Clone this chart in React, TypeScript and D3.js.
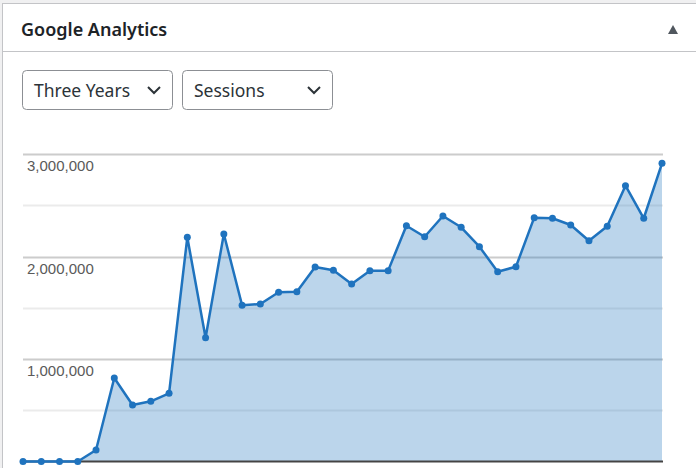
import React from "react";
import * as d3 from "d3";

const months: number[] = d3.range(36);
const sessions: number[] = [
  0, 0, 0, 0, 112000, 815000, 551000, 587000, 665000, 2187000, 1208000, 2220000,
  1524000, 1537000, 1651000, 1657000, 1898000, 1865000, 1732000, 1862000, 1862000, 2300000, 2193000, 2395000,
  2285000, 2096000, 1852000, 1900000, 2379000, 2373000, 2307000, 2154000, 2295000, 2691000, 2373000, 2909000,
];
const yTicks: number[] = [0, 500000, 1000000, 1500000, 2000000, 2500000, 3000000];
const labelTicks: number[] = [1000000, 2000000, 3000000];
const title = "Google Analytics";
const rangeOptions = ["Three Years"];
const metricOptions = ["Sessions"];

const W = 696;
const H = 468;

export default function App() {
  const x = d3.scaleLinear().domain([0, months.length - 1]).range([23, 662]);
  const y = d3.scaleLinear().domain([0, 3000000]).range([461.5, 154]);
  const line = d3
    .line<number>()
    .x((_, i) => x(months[i]))
    .y((d) => y(d));
  const area = d3
    .area<number>()
    .x((_, i) => x(months[i]))
    .y0(y(0))
    .y1((d) => y(d));
  const fmt = d3.format(",");
  const lineColor = "#1f73be";
  const uiFont = "'Noto Sans', 'Open Sans', sans-serif";

  const dropdown = (x0: number, label: string) => (
    <g key={label} transform={`translate(${x0},70)`}>
      <rect x={0.5} y={0.5} width={150} height={39} rx={4} fill="#fff" stroke="#8c8f94" />
      <text x={12} y={27} fontFamily={uiFont} fontSize={17.5} fill="#2c3338">
        {label}
      </text>
      <path d="M126,17 L132,23 L138,17" fill="none" stroke="#2c3338" strokeWidth={2} />
    </g>
  );

  return (
    <svg width={W} height={H} style={{ position: "absolute", left: 0, top: 0 }}>
      <rect x={0} y={0} width={W} height={H} fill="#f0f0f1" />
      <rect x={2.5} y={3.5} width={W + 10} height={H + 10} fill="#fff" stroke="#c3c4c7" />
      <text x={21} y={36} fontFamily={uiFont} fontSize={18} fontWeight={600} fill="#1d2327">
        {title}
      </text>
      <path d="M668,34 L673,25 L678,34 Z" fill="#50575e" />
      <line x1={3} x2={W} y1={51.5} y2={51.5} stroke="#c3c4c7" />
      {dropdown(22, rangeOptions[0])}
      {dropdown(182, metricOptions[0])}

      {yTicks.slice(1).map((t) => (
        <line
          key={t}
          x1={23}
          x2={663}
          y1={Math.round(y(t)) + 0.5}
          y2={Math.round(y(t)) + 0.5}
          stroke={t % 1000000 === 0 ? "#cccccc" : "#ebebeb"}
          strokeWidth={2}
        />
      ))}
      {labelTicks.map((t) => (
        <text
          key={t}
          x={27}
          y={y(t) + 17}
          fontFamily="'Liberation Sans', Arial, sans-serif"
          fontSize={15}
          fill="#5a5a5a"
        >
          {fmt(t)}
        </text>
      ))}
      <path d={area(sessions) || ""} fill={lineColor} fillOpacity={0.3} />
      <line x1={23} x2={663} y1={y(0)} y2={y(0)} stroke="#444444" strokeWidth={2} />
      <path d={line(sessions) || ""} fill="none" stroke={lineColor} strokeWidth={2.5} strokeLinejoin="round" />
      {sessions.map((d, i) => (
        <circle key={i} cx={x(months[i])} cy={y(d)} r={3.5} fill={lineColor} />
      ))}
    </svg>
  );
}
